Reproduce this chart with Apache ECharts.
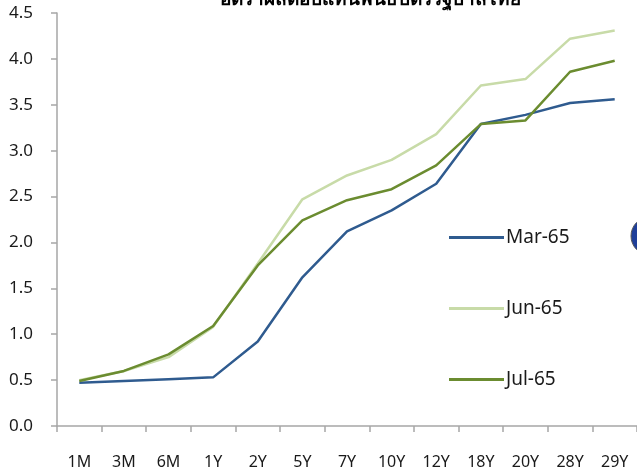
<!DOCTYPE html>
<html>
<head>
<meta charset="utf-8">
<script src="https://cdn.jsdelivr.net/npm/echarts@6/dist/echarts.min.js"></script>
<style>
  html, body { margin: 0; padding: 0; background: #ffffff; }
  #chart { width: 637px; height: 472px; }
</style>
</head>
<body>
<div id="chart"></div>
<script>
// Government bond yield curve by tenor (%)
const tenors = ['1M', '3M', '6M', '1Y', '2Y', '5Y', '7Y', '10Y', '12Y', '18Y', '20Y', '28Y', '29Y'];
const mar65 = [0.47, 0.49, 0.51, 0.53, 0.92, 1.62, 2.12, 2.35, 2.64, 3.29, 3.39, 3.52, 3.56];
const jun65 = [0.50, 0.60, 0.75, 1.08, 1.77, 2.47, 2.73, 2.90, 3.18, 3.71, 3.78, 4.22, 4.31];
const jul65 = [0.49, 0.60, 0.78, 1.09, 1.75, 2.24, 2.46, 2.58, 2.84, 3.29, 3.33, 3.86, 3.98];
const yTicks = { min: 0, max: 4.5, step: 0.5 };

const FONT = '"Noto Sans", "Open Sans", sans-serif';
const axisGray = '#a6a6a6';

const chart = echarts.init(document.getElementById('chart'), null, { renderer: 'canvas' });

function line(name, data, color) {
  return {
    name: name,
    type: 'line',
    data: data,
    symbol: 'none',
    lineStyle: { color: color, width: 2.5 },
    itemStyle: { color: color },
    z: 3
  };
}

chart.setOption({
  animation: false,
  backgroundColor: '#ffffff',
  title: {
    text: 'อัตราผลตอบแทนพันธบัตรรัฐบาลไทย',
    left: 365,
    textAlign: 'center',
    top: -15,
    textStyle: { fontFamily: FONT, fontSize: 19, fontWeight: 'bold', color: '#000000' }
  },
  grid: { left: 57, right: 0, top: 13, bottom: 46, containLabel: false },
  legend: {
    orient: 'vertical',
    left: 444,
    top: 223,
    itemWidth: 55,
    itemHeight: 14,
    itemGap: 52,
    icon: 'path://M0,5.5 L55,5.5 L55,8.5 L0,8.5 Z',
    textStyle: { fontFamily: FONT, fontSize: 19, color: '#1a1a1a', padding: [0, 0, 0, -3] },
    data: ['Mar-65', 'Jun-65', 'Jul-65']
  },
  xAxis: {
    type: 'category',
    data: tenors,
    boundaryGap: true,
    axisLine: { lineStyle: { color: axisGray, width: 1.5 } },
    axisTick: { show: true, length: 6, lineStyle: { color: axisGray, width: 1.5 } },
    axisLabel: { fontFamily: FONT, fontSize: 16, color: '#1a1a1a', margin: 28, interval: 0 },
    splitLine: { show: false }
  },
  yAxis: {
    type: 'value',
    min: yTicks.min,
    max: yTicks.max,
    interval: yTicks.step,
    axisLine: { show: true, lineStyle: { color: axisGray, width: 1.5 } },
    axisTick: { show: true, length: 6, lineStyle: { color: axisGray, width: 1.5 } },
    axisLabel: {
      fontFamily: FONT, fontSize: 17, color: '#1a1a1a', margin: 24,
      formatter: v => v.toFixed(1)
    },
    splitLine: { show: false }
  },
  series: [
    line('Mar-65', mar65, '#2f5b8f'),
    line('Jun-65', jun65, '#c8dba8'),
    line('Jul-65', jul65, '#6b8c30')
  ],
  graphic: [
    {
      type: 'circle',
      shape: { cx: 650, cy: 236, r: 19 },
      style: { fill: '#1f3f99', stroke: '#555555', lineWidth: 1 },
      z: 10
    }
  ]
});
</script>
</body>
</html>
